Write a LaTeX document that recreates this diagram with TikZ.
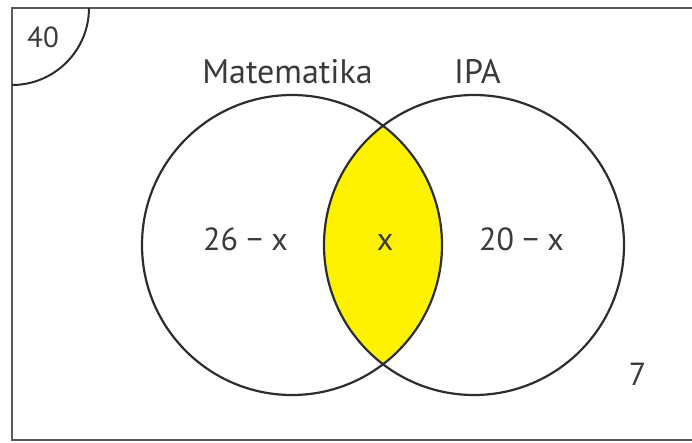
\documentclass[tikz,border=0pt]{standalone}
\usepackage{fontspec}
\setmainfont{PT Sans}
\definecolor{lensyellow}{RGB}{255,242,0}
\definecolor{txtgray}{RGB}{58,58,58}
\definecolor{linegray}{RGB}{45,45,45}
\definecolor{bordergray}{RGB}{90,90,90}
\begin{document}
\begin{tikzpicture}[x=1pt,y=-1pt,
  setcircle/.style={circle,draw=linegray,line width=2.2pt,minimum size=300pt,inner sep=0pt},
  lbl/.style={text=txtgray,font=\fontsize{32}{36}\selectfont,anchor=base,inner sep=0pt},
  titlelbl/.style={text=txtgray,font=\fontsize{34}{38}\selectfont,anchor=base,inner sep=0pt},
  smalllbl/.style={text=txtgray,font=\fontsize{29}{33}\selectfont,anchor=base,inner sep=0pt}]
\useasboundingbox (0,0) rectangle (692,442);
\coordinate (cA) at (292,245);
\coordinate (cB) at (474,245);
\begin{scope}
  \clip (cA) circle (150);
  \fill[lensyellow] (cB) circle (150);
\end{scope}
\node[setcircle] (mat) at (cA) {};
\node[setcircle] (ipa) at (cB) {};
\draw[bordergray,line width=2.2pt] (692,8) -- (12,8) -- (12,440) -- (692,440);
\draw[linegray,line width=2pt] (89,8) arc[start angle=0,end angle=90,radius=77];
\node[titlelbl] (tmat) at (287.5,83) {Matematika};
\node[titlelbl] (tipa) at (477.5,83) {IPA};
\node[lbl] (la) at (245.5,250) {26 − x};
\node[lbl] (lx) at (385,250) {x};
\node[lbl] (lb) at (521.5,250) {20 − x};
\node[smalllbl] (ltot) at (43,47) {40};
\node[lbl] (lout) at (637.5,385) {7};
\end{tikzpicture}
\end{document}
